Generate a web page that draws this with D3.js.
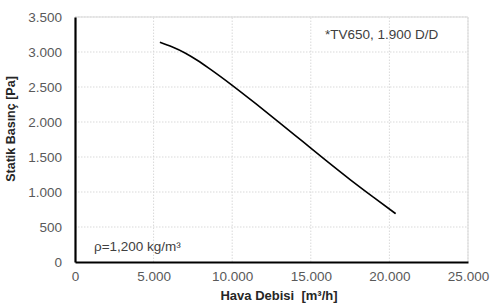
<!DOCTYPE html>
<html>
<head>
<meta charset="utf-8">
<script src="https://cdn.jsdelivr.net/npm/d3@7"></script>
<style>
  body { margin: 0; background: #fff; }
  svg { display: block; font-family: "Liberation Sans", Arial, sans-serif; }
</style>
</head>
<body>
<div id="grafik"></div>
<script>
// Hava debisi (m³/h) ve statik basınç (Pa) - eğri noktaları
const debi = [5400, 6200, 7000, 7800, 8600, 10000, 11500, 13000, 14500, 16000, 17500, 19000, 20400];
const basinc = [3138, 3070, 2986, 2878, 2754, 2523, 2261, 1991, 1718, 1445, 1178, 923, 690];
const xTicks = [0, 5000, 10000, 15000, 20000, 25000];
const yTicks = [0, 500, 1000, 1500, 2000, 2500, 3000, 3500];
const notUst = "*TV650, 1.900 D/D";
const notAlt = "ρ=1,200 kg/m³";

const width = 500, height = 305;
const margin = { top: 17, right: 32, bottom: 43, left: 75 };

const svg = d3.select("#grafik").append("svg")
    .attr("width", width)
    .attr("height", height);

const x = d3.scaleLinear().domain([0, 25000]).range([margin.left, width - margin.right]);
const y = d3.scaleLinear().domain([0, 3500]).range([height - margin.bottom, margin.top]);

const fmt = d3.formatLocale({ decimal: ",", thousands: ".", grouping: [3], currency: ["", ""] }).format(",d");

// grid
svg.append("g")
    .selectAll("line")
    .data(xTicks.slice(1))
    .join("line")
    .attr("x1", d => x(d)).attr("x2", d => x(d))
    .attr("y1", y(0)).attr("y2", y(3500))
    .attr("stroke", "#d9d9d9")
    .attr("stroke-dasharray", "1.5,1.5");

svg.append("g")
    .selectAll("line")
    .data(yTicks.slice(1))
    .join("line")
    .attr("x1", x(0)).attr("x2", x(25000))
    .attr("y1", d => y(d)).attr("y2", d => y(d))
    .attr("stroke", "#d9d9d9")
    .attr("stroke-dasharray", "1.5,1.5");

// üst ve sağ çerçeve
svg.append("path")
    .attr("d", `M${x(0)},${y(3500)}H${x(25000)}V${y(0)}`)
    .attr("fill", "none")
    .attr("stroke", "#d9d9d9");

// eksenler
const xAxis = svg.append("g")
    .attr("transform", `translate(0,${y(0)})`)
    .call(d3.axisBottom(x).tickValues(xTicks).tickFormat(fmt).tickSize(0).tickPadding(9));
xAxis.select(".domain").attr("stroke", "#000").attr("stroke-width", 2.2);
xAxis.selectAll("text").attr("font-size", 13.5).attr("fill", "#595959").attr("font-family", null);

const yAxis = svg.append("g")
    .attr("transform", `translate(${x(0)},0)`)
    .call(d3.axisLeft(y).tickValues(yTicks).tickFormat(fmt).tickSize(0).tickPadding(13));
yAxis.select(".domain").attr("stroke", "#000").attr("stroke-width", 2.2);
yAxis.selectAll("text").attr("font-size", 13.5).attr("fill", "#595959").attr("font-family", null);

// eğri
const points = debi.map((d, i) => [d, basinc[i]]);
svg.append("path")
    .datum(points)
    .attr("fill", "none")
    .attr("stroke", "#000")
    .attr("stroke-width", 1.6)
    .attr("d", d3.line().x(d => x(d[0])).y(d => y(d[1])).curve(d3.curveMonotoneX));

// eksen başlıkları
svg.append("text")
    .attr("x", 279).attr("y", 300)
    .attr("text-anchor", "middle")
    .attr("font-size", 13)
    .attr("font-weight", "bold")
    .attr("fill", "#262626")
    .attr("xml:space", "preserve")
    .text("Hava Debisi  [m³/h]");

svg.append("text")
    .attr("transform", "translate(15,129) rotate(-90)")
    .attr("text-anchor", "middle")
    .attr("font-size", 12.5)
    .attr("font-weight", "bold")
    .attr("fill", "#262626")
    .text("Statik Basınç [Pa]");

// notlar
svg.append("text")
    .attr("x", 325).attr("y", 39)
    .attr("font-size", 13.5)
    .attr("fill", "#404040")
    .text(notUst);

svg.append("text")
    .attr("x", 94).attr("y", 251)
    .attr("font-size", 13.5)
    .attr("fill", "#404040")
    .text(notAlt);
</script>
</body>
</html>
